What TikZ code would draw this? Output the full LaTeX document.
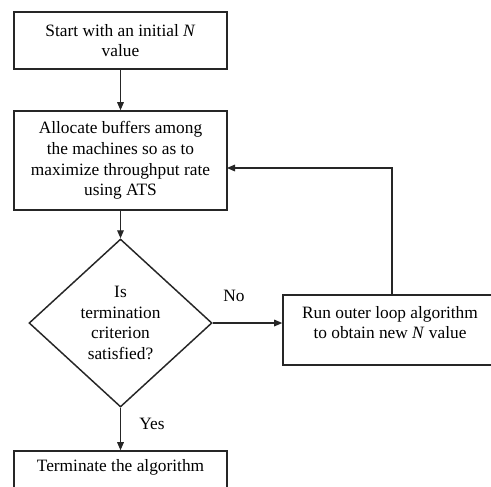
\documentclass[tikz,border=0pt]{standalone}
\usepackage{fontspec}
\setmainfont{Liberation Serif}
\usetikzlibrary{arrows.meta,shapes.geometric}
\tikzset{
  boxnode/.style={draw=black!85, line width=1.2pt, rectangle, inner sep=0pt, align=center},
  decnode/.style={draw=black!85, line width=1.1pt, diamond, inner sep=0pt, align=center},
  txt/.style={inner sep=0pt, align=center},
  conn/.style={draw=black!85, line width=0.8pt, -{Triangle[length=6pt,width=5pt]}},
  lbl/.style={inner sep=0pt}
}
\begin{document}
\begin{tikzpicture}[x=0.75pt,y=-0.75pt, font=\fontsize{13}{15.6}\selectfont]
\useasboundingbox (0,0) rectangle (491,486);
\clip (0,0) rectangle (491,486);
\fill[white] (0,0) rectangle (491,486);
\node[boxnode, minimum width=159.75pt, minimum height=42.75pt] (b1) at (120.5,40.5)
  {Start with an initial \textit{N}\\value};
\node[boxnode, minimum width=159.75pt, minimum height=74.25pt] (b2) at (120.5,160.5)
  {Allocate buffers among\\the machines so as to\\maximize throughput rate\\using ATS};
\node[decnode, minimum width=137.25pt, minimum height=126pt, aspect=1.09] (d) at (120.5,323)
  {Is\\termination\\criterion\\satisfied?};
\node[boxnode, minimum width=163.5pt, minimum height=52.5pt] (b3) at (392,330) {};
\node[txt] (t3) at (390,322.5) {Run outer loop algorithm\\to obtain new \textit{N} value};
\node[boxnode, minimum width=159.75pt, minimum height=43.5pt] (b4) at (120.5,480) {};
\node[txt] (t4) at (120.5,467.5) {Terminate the algorithm};
\coordinate (m) at (227,168);
\draw[conn] (b1.south) -- (b2.north);
\draw[conn] (b2.south) -- (d.north);
\draw[conn] (d.east) -- (b3.west |- d.east);
\draw[conn] (d.south) -- (b4.north);
\draw[conn] (b3.north) |- (m);
\node[lbl] (no) at (234,296) {No};
\node[lbl] (yes) at (152,424) {Yes};
\end{tikzpicture}
\end{document}
